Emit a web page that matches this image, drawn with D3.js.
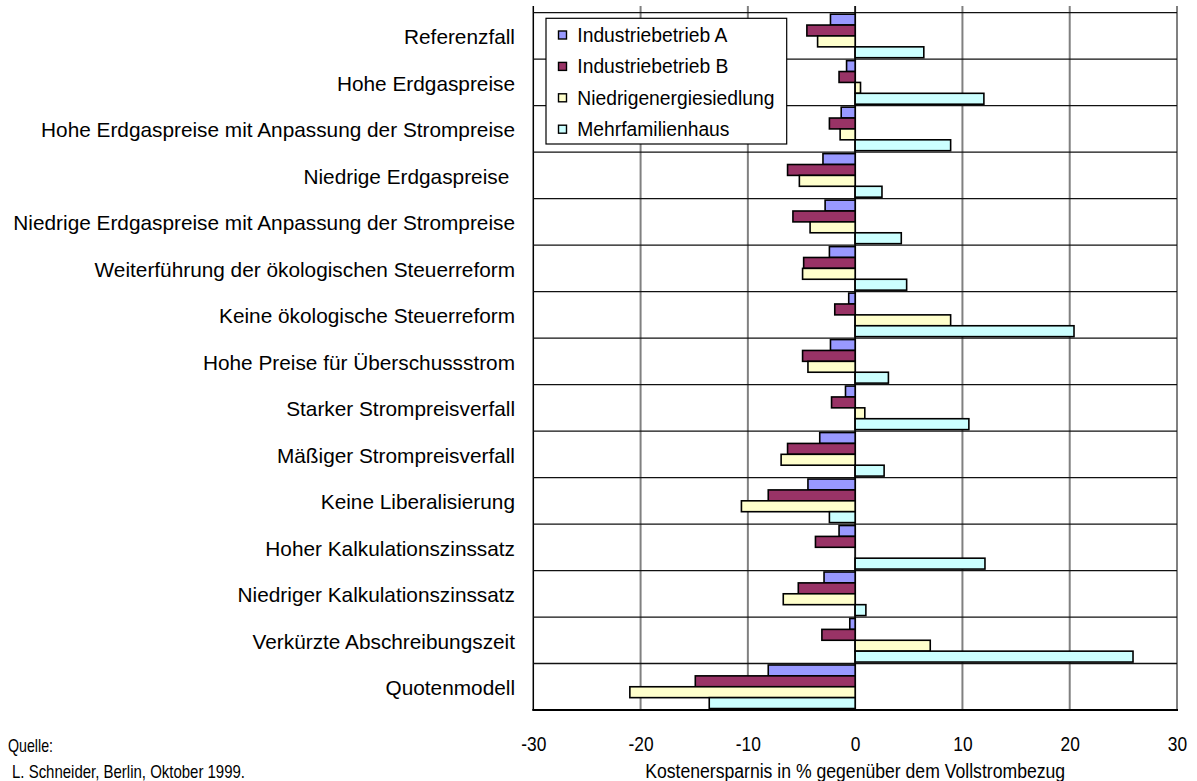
<!DOCTYPE html>
<html>
<head>
<meta charset="utf-8">
<script src="https://cdn.jsdelivr.net/npm/d3@7"></script>
<style>
  body { margin: 0; background: #fff; }
  svg { display: block; font-family: "Liberation Sans", Arial, sans-serif; }
</style>
</head>
<body>
<svg id="chart"></svg>
<script>
const categories = [
  'Referenzfall',
  'Hohe Erdgaspreise',
  'Hohe Erdgaspreise mit Anpassung der Strompreise',
  'Niedrige Erdgaspreise ',
  'Niedrige Erdgaspreise mit Anpassung der Strompreise',
  'Weiterführung der ökologischen Steuerreform',
  'Keine ökologische Steuerreform',
  'Hohe Preise für Überschussstrom',
  'Starker Strompreisverfall',
  'Mäßiger Strompreisverfall',
  'Keine Liberalisierung',
  'Hoher Kalkulationszinssatz',
  'Niedriger Kalkulationszinssatz',
  'Verkürzte Abschreibungszeit',
  'Quotenmodell'
];

const seriesNames = ['Industriebetrieb A', 'Industriebetrieb B', 'Niedrigenergiesiedlung', 'Mehrfamilienhaus'];
const seriesColors = ['#9999ff', '#993366', '#ffffcc', '#ccffff'];

const industrieA = [-2.3, -0.8, -1.3, -3.0, -2.8, -2.4, -0.6, -2.3, -0.9, -3.3, -4.4, -1.5, -2.9, -0.5, -8.1];
const industrieB = [-4.5, -1.5, -2.4, -6.3, -5.8, -4.8, -1.9, -4.9, -2.2, -6.3, -8.1, -3.7, -5.3, -3.1, -14.9];
const siedlung   = [-3.5, 0.5, -1.4, -5.2, -4.2, -4.9, 8.9, -4.4, 0.9, -6.9, -10.6, 0, -6.7, 7.0, -21.0];
const mfh        = [6.4, 12.0, 8.9, 2.5, 4.3, 4.8, 20.4, 3.1, 10.6, 2.7, -2.4, 12.1, 1.0, 25.9, -13.6];

const ticks = [-30, -20, -10, 0, 10, 20, 30];

const W = 1197, H = 781;
const svg = d3.select('#chart').attr('width', W).attr('height', H);

const x = d3.scaleLinear().domain([-30, 30]).range([533.3, 1177]);
const y = d3.scaleBand().domain(categories).range([12.7, 710]).paddingInner(0).paddingOuter(0);
const ySub = d3.scaleBand().domain(seriesNames).range([0, y.bandwidth()]).paddingInner(0).paddingOuter(0.135);

const rows = categories.map((c, i) => ({
  cat: c,
  vals: [industrieA[i], industrieB[i], siedlung[i], mfh[i]]
}));

// vertical gridlines (they poke a little above the plot top)
svg.append('g')
  .selectAll('line')
  .data(ticks)
  .join('line')
  .attr('x1', d => x(d)).attr('x2', d => x(d))
  .attr('y1', 6).attr('y2', 710)
  .attr('stroke', d => d === -30 ? '#000' : '#808080')
  .attr('stroke-width', d => d === -30 ? 1.5 : 2);

// category separators
const bounds = categories.map(c => y(c));
svg.append('g')
  .selectAll('line')
  .data(bounds)
  .join('line')
  .attr('x1', x(-30)).attr('x2', x(30))
  .attr('y1', d => d).attr('y2', d => d)
  .attr('stroke', '#111')
  .attr('stroke-width', 1.3);

// category axis at zero
svg.append('line')
  .attr('x1', x(0)).attr('x2', x(0))
  .attr('y1', 6).attr('y2', 710)
  .attr('stroke', '#000').attr('stroke-width', 1.4);

// bars
const groups = svg.append('g')
  .selectAll('g')
  .data(rows)
  .join('g')
  .attr('transform', d => `translate(0,${y(d.cat)})`);

groups.selectAll('rect')
  .data(d => d.vals.map((v, k) => ({ v, k })).filter(e => e.v !== 0))
  .join('rect')
  .attr('x', d => x(Math.min(0, d.v)))
  .attr('width', d => Math.abs(x(d.v) - x(0)))
  .attr('y', d => ySub(seriesNames[d.k]))
  .attr('height', ySub.bandwidth())
  .attr('fill', d => seriesColors[d.k])
  .attr('stroke', '#000')
  .attr('stroke-width', 1.6);

// bottom axis line
svg.append('line')
  .attr('x1', x(-30) - 1).attr('x2', x(30) + 1)
  .attr('y1', 710).attr('y2', 710)
  .attr('stroke', '#000').attr('stroke-width', 2.2);

// category labels
svg.append('g')
  .selectAll('text')
  .data(categories)
  .join('text')
  .attr('x', 515)
  .attr('y', d => y(d) + y.bandwidth() / 2 + 8.5)
  .attr('text-anchor', 'end')
  .attr('font-size', 20.8)
  .attr('fill', '#000')
  .style('white-space', 'pre')
  .text(d => d);

// value axis labels (plain hyphen minus, slightly condensed like the original)
const xAxis = d3.axisBottom(x).tickValues(ticks).tickSize(0).tickPadding(27).tickFormat(d => String(d));
const ax = svg.append('g').attr('transform', 'translate(0,710)').call(xAxis);
ax.select('.domain').remove();
ax.attr('font-family', null).attr('font-size', null);
ax.selectAll('text')
  .attr('font-size', 19.5)
  .attr('fill', '#000')
  .attr('transform', 'scale(0.89,1)');

svg.append('text')
  .attr('x', x(0)).attr('y', 778)
  .attr('text-anchor', 'middle')
  .attr('font-size', 20)
  .attr('textLength', 420)
  .attr('lengthAdjust', 'spacingAndGlyphs')
  .text('Kostenersparnis in % gegenüber dem Vollstrombezug');

svg.append('text')
  .attr('x', 8).attr('y', 752)
  .attr('font-size', 18.5)
  .attr('textLength', 45)
  .attr('lengthAdjust', 'spacingAndGlyphs')
  .text('Quelle:');

svg.append('text')
  .attr('x', 12).attr('y', 778)
  .attr('font-size', 18.5)
  .attr('textLength', 233)
  .attr('lengthAdjust', 'spacingAndGlyphs')
  .text('L. Schneider, Berlin, Oktober 1999.');

// legend
const leg = svg.append('g').attr('transform', 'translate(546,18.3)');
leg.append('rect')
  .attr('width', 240.7).attr('height', 125.7)
  .attr('fill', '#fff').attr('stroke', '#000').attr('stroke-width', 1.2);

const items = leg.selectAll('g.item')
  .data(seriesNames)
  .join('g')
  .attr('class', 'item')
  .attr('transform', (d, i) => `translate(0,${16.7 + i * 31.4})`);

items.append('rect')
  .attr('x', 12.5).attr('y', -4)
  .attr('width', 8).attr('height', 8)
  .attr('fill', (d, i) => seriesColors[i])
  .attr('stroke', '#000').attr('stroke-width', 1.4);

items.append('text')
  .attr('x', 31.3).attr('y', 7)
  .attr('font-size', 19.3)
  .text(d => d);
</script>
</body>
</html>
